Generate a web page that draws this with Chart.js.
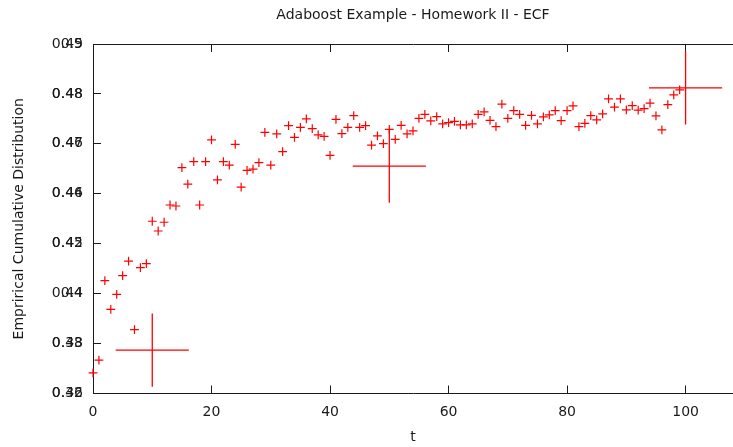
<!DOCTYPE html>
<html>
  <head>
    <meta charset="utf-8" />
    <script src="https://cdn.jsdelivr.net/npm/chart.js"></script>
    <style>
      body {
        margin: 0;
        background: #fff;
      }
      .wrap {
        width: 733px;
        height: 447px;
      }
    </style>
  </head>
  <body>
    <div class="wrap"><canvas id="ecfChart"></canvas></div>
    <script>
      // boosting round t and the empirical value read for it
      const tValues = [
        0, 1, 2, 3, 4, 5, 6, 7, 8, 9, 10, 11, 12, 13, 14, 15, 16, 17, 18, 19,
        20, 21, 22, 23, 24, 25, 26, 27, 28, 29, 30, 31, 32, 33, 34, 35, 36, 37,
        38, 39, 40, 41, 42, 43, 44, 45, 46, 47, 48, 49, 50, 51, 52, 53, 54, 55,
        56, 57, 58, 59, 60, 61, 62, 63, 64, 65, 66, 67, 68, 69, 70, 71, 72, 73,
        74, 75, 76, 77, 78, 79, 80, 81, 82, 83, 84, 85, 86, 87, 88, 89, 90, 91,
        92, 93, 94, 95, 96, 97, 98, 99,
      ];
      const ecfValues = [
        0.3683, 0.3734, 0.4052, 0.3937, 0.3997, 0.4072, 0.413, 0.3856, 0.4104,
        0.412, 0.429, 0.4251, 0.4286, 0.4355, 0.4351, 0.4505, 0.4439, 0.4529,
        0.4355, 0.4529, 0.4616, 0.4456, 0.4529, 0.4515, 0.4598, 0.4427, 0.4494,
        0.4499, 0.4525, 0.4646, 0.4515, 0.464, 0.4569, 0.4673, 0.4626, 0.4666,
        0.47, 0.4661, 0.4636, 0.463, 0.4554, 0.4698, 0.4641, 0.4666, 0.4713,
        0.4666, 0.4673, 0.4595, 0.4632, 0.4601, 0.4658, 0.4618, 0.4674, 0.464,
        0.4652, 0.4702, 0.4718, 0.4692, 0.4709, 0.468, 0.4685, 0.469, 0.4676,
        0.4676, 0.468, 0.4718, 0.4728, 0.4694, 0.4669, 0.4759, 0.4702, 0.4733,
        0.4718, 0.4674, 0.4714, 0.468, 0.4708, 0.4716, 0.4733, 0.4693, 0.4733,
        0.4752, 0.4669, 0.4682, 0.4713, 0.4696, 0.472, 0.478, 0.4747, 0.478,
        0.4736, 0.4753, 0.4735, 0.4741, 0.4763, 0.4712, 0.4656, 0.4757, 0.4796,
        0.4816,
      ];
      // the three big crosses
      const markT = [10, 50, 100];
      const markValues = [0.3774, 0.4511, 0.4824];

      const xTicks = [0, 20, 40, 60, 80, 100];
      const yTicks = [0.36, 0.38, 0.4, 0.42, 0.44, 0.46, 0.48, 0.5];
      const yTicksOver = [0.42, 0.43, 0.44, 0.45, 0.46, 0.47, 0.48, 0.49];

      const titleText = "Adaboost Example - Homework II - ECF";
      const xLabel = "t";
      const yLabel = "Emprirical Cumulative Distribution";

      const ink = "#1a1a1a";
      const font = { family: "DejaVu Sans", size: 14 };
      const grid = {
        drawOnChartArea: false,
        tickLength: -8,
        color: ink,
        tickColor: ink,
      };
      const border = { color: ink, width: 1 };
      const useTicks = (list) => (scale) => {
        scale.ticks = list.map((value) => ({ value }));
      };
      // fixed box sizes, no extra label padding around the plot
      const boxSize = (w, h) => (s) => {
        if (w !== null) s.width = w;
        if (h !== null) s.height = h;
        s.paddingLeft = s.paddingRight = s.paddingTop = s.paddingBottom = 0;
      };

      new Chart(document.getElementById("ecfChart"), {
        type: "scatter",
        data: {
          datasets: [
            {
              label: "ecf",
              data: tValues.map((t, i) => ({ x: t, y: ecfValues[i] })),
              pointStyle: "cross",
              pointRadius: 4.4,
              pointBorderWidth: 1.2,
              borderColor: "#ff0000",
              backgroundColor: "#ff0000",
              clip: false,
            },
            {
              label: "marks",
              data: markT.map((t, i) => ({ x: t, y: markValues[i] })),
              pointStyle: "cross",
              pointRadius: 36.6,
              pointBorderWidth: 1.3,
              borderColor: "#ff0000",
              backgroundColor: "#ff0000",
              clip: false,
            },
          ],
        },
        options: {
          responsive: true,
          maintainAspectRatio: false,
          animation: false,
          events: [],
          // the plot runs off the right edge of the picture
          layout: { padding: 0, autoPadding: false },
          plugins: {
            legend: { display: false },
            tooltip: { enabled: false },
          },
          scales: {
            x: {
              type: "linear",
              position: "bottom",
              min: 0,
              max: 108,
              afterBuildTicks: useTicks(xTicks),
              afterFit: boxSize(null, 53.5),
              grid,
              border,
              ticks: {
                padding: 18,
                font,
                color: ink,
                callback: (v) => String(v),
              },
              title: {
                display: true,
                text: xLabel,
                font,
                color: ink,
                padding: { top: 0, bottom: 1 },
              },
            },
            x2: {
              type: "linear",
              position: "top",
              min: 0,
              max: 108,
              afterBuildTicks: useTicks(xTicks),
              afterFit: boxSize(null, 44),
              grid,
              border,
              ticks: { display: false },
              title: {
                display: true,
                text: titleText,
                font,
                color: ink,
                padding: { top: 7, bottom: 0 },
              },
            },
            y: {
              type: "linear",
              position: "left",
              weight: 1,
              min: 0.36,
              max: 0.5,
              afterBuildTicks: useTicks(yTicks),
              afterFit: boxSize(93, null),
              grid,
              border,
              ticks: {
                padding: 18,
                font,
                color: ink,
                callback: (v) => String(v),
              },
              title: {
                display: true,
                text: yLabel,
                font,
                color: ink,
                padding: { top: 10.6, bottom: 0 },
              },
            },
            // second label set printed over the first one
            y2: {
              type: "linear",
              position: "left",
              weight: 0,
              min: 0.42,
              max: 0.49,
              afterBuildTicks: useTicks(yTicksOver),
              afterFit: boxSize(0, null),
              grid,
              border,
              ticks: {
                mirror: true,
                crossAlign: "far",
                padding: -41.17,
                font,
                color: ink,
                callback: (v) => String(v),
              },
            },
          },
        },
      });
    </script>
  </body>
</html>
